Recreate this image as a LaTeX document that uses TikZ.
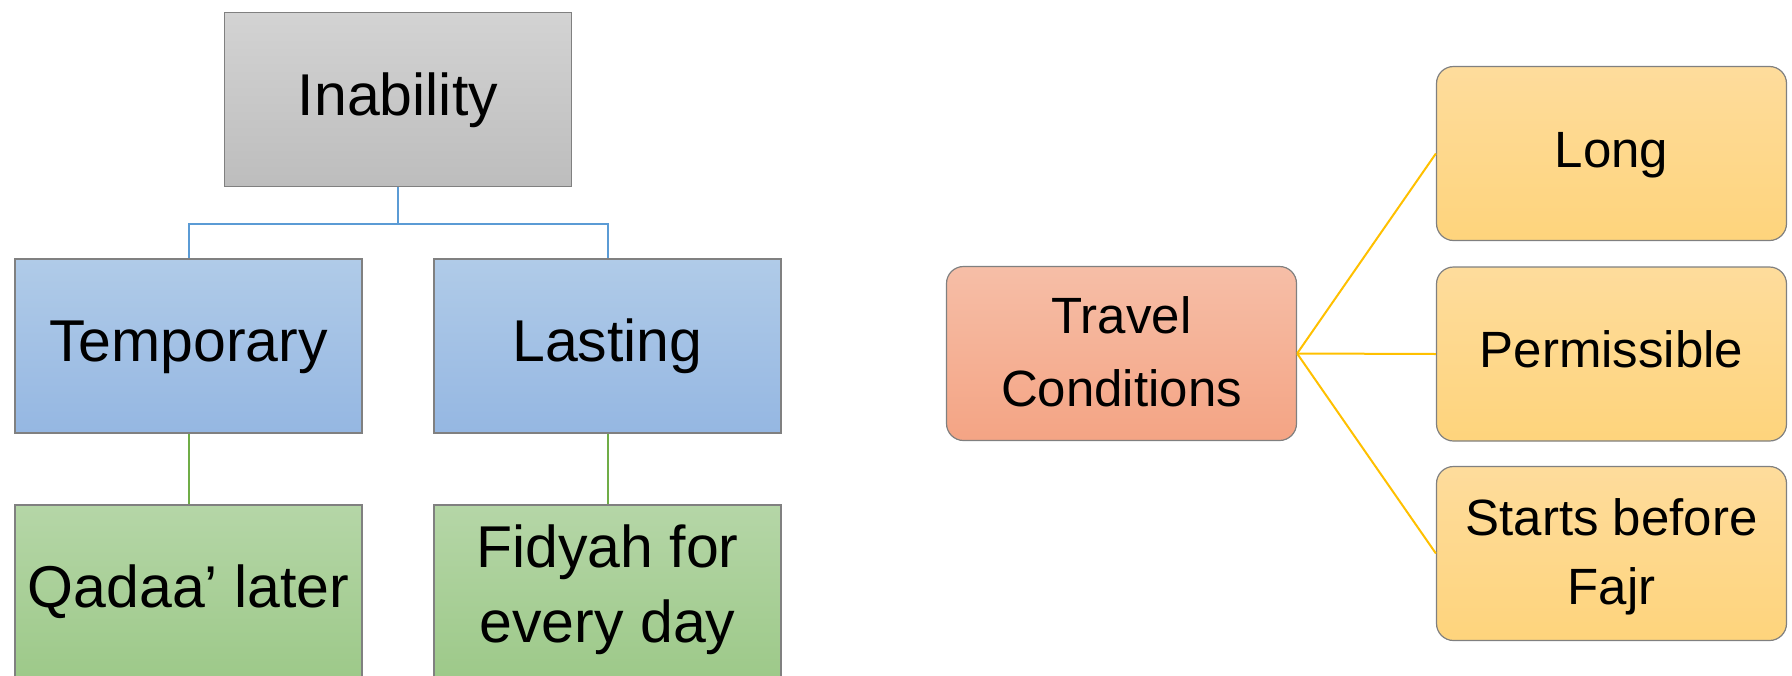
\documentclass[tikz,border=0pt]{standalone}
\usepackage{fontspec}
\setmainfont{Liberation Sans}
\usetikzlibrary{positioning}
% struts that lower the text in its box
\newcommand\capstrut[1][1.13em]{\rule[-0.3em]{0pt}{#1}}
\newcommand\lowstrut{\rule[-0.3em]{0pt}{0.3em}}

\begin{document}
\begin{tikzpicture}[x=0.5pt, y=-0.5pt,
  box/.style={draw=black!50, line width=0.6pt, minimum width=173.5pt, minimum height=87pt,
    inner sep=0pt, align=center, font=\fontsize{29.5}{37.5}\selectfont},
  grey/.style={box, top color={rgb,255:red,211;green,211;blue,211}, bottom color={rgb,255:red,189;green,189;blue,189}},
  blue/.style={box, top color={rgb,255:red,176;green,203;blue,232}, bottom color={rgb,255:red,149;green,183;blue,226}},
  green/.style={box, top color={rgb,255:red,181;green,214;blue,167}, bottom color={rgb,255:red,157;green,201;blue,137}},
  cond/.style={box, rounded corners=8.5pt, minimum width=175pt, font=\fontsize{25.5}{36.2}\selectfont},
  salmon/.style={cond, top color={rgb,255:red,246;green,190;blue,167}, bottom color={rgb,255:red,244;green,164;blue,132}},
  amber/.style={cond, top color={rgb,255:red,254;green,220;blue,156}, bottom color={rgb,255:red,254;green,212;blue,124}},
  link/.style={line width=1pt}]
  \useasboundingbox (0,0) rectangle (1792,675);

  % inability tree
  \node[grey] (inab) at (398,99.5) {\capstrut Inability};
  \node[blue] (temp) at (188.5,346) {\capstrut Temporary};
  \node[blue] (last) at (607.5,346) {\capstrut Lasting};
  \node[green] (qada) at (188.5,592) {\capstrut Qadaa’ later};
  \node[green] (fidy) at (607.5,592) {\capstrut[1em]Fidyah for\\\lowstrut every day};

  \draw[link, color={rgb,255:red,91;green,155;blue,213}] (inab.south) -- ++(0,37) coordinate (fork) -| (temp.north);
  \draw[link, color={rgb,255:red,91;green,155;blue,213}] (fork) -| (last.north);
  \draw[link, color={rgb,255:red,112;green,173;blue,71}] (temp) -- (qada);
  \draw[link, color={rgb,255:red,112;green,173;blue,71}] (last) -- (fidy);

  % travel conditions
  \node[salmon] (trav) at (1121.5,353.5) {\capstrut[1.24em]Travel\\\lowstrut Conditions};
  \node[amber] (long) at (1611.5,153.5) {\capstrut Long};
  \node[amber] (perm) at (1611.5,354) {\capstrut Permissible};
  \node[amber, font=\fontsize{25.5}{34.3}\selectfont] (fajr) at (1611.5,553.5) {\capstrut[1.24em]Starts before\\\lowstrut Fajr};

  \foreach \n in {long,perm,fajr}
    \draw[link, color={rgb,255:red,255;green,192;blue,0}] (trav.east) -- (\n.west);
\end{tikzpicture}
\end{document}
